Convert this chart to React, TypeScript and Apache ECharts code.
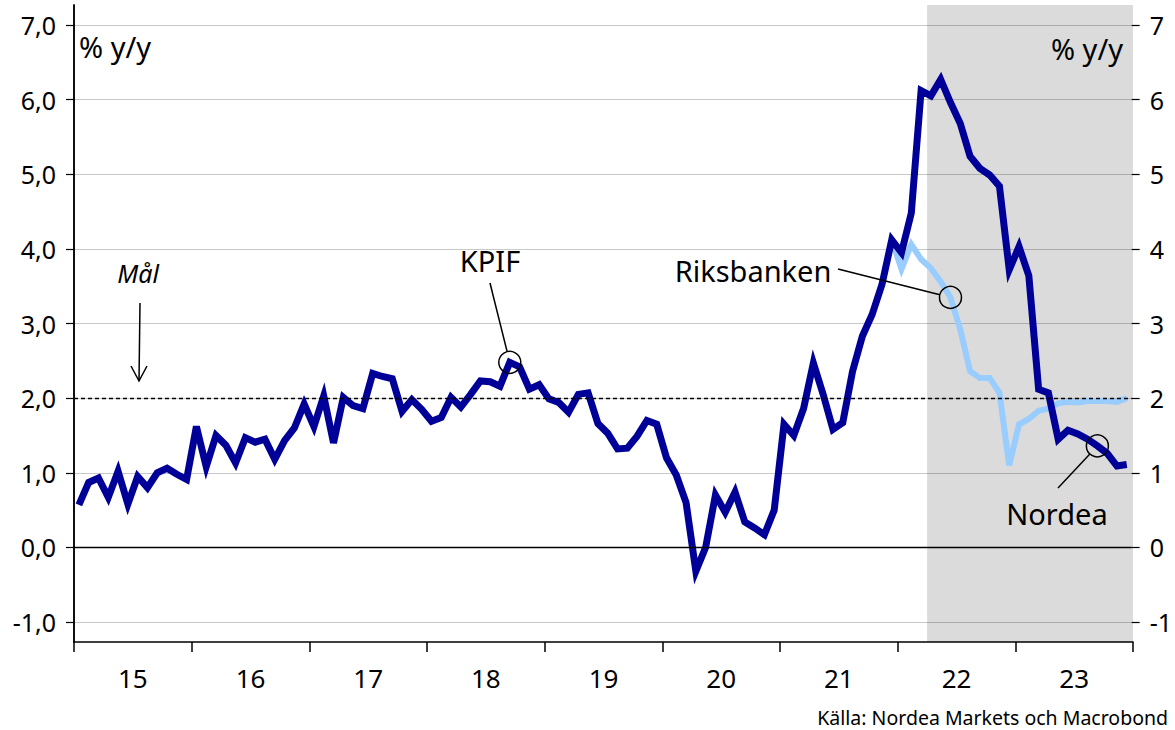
import React, { useEffect, useRef } from "react";
import * as echarts from "echarts";

// ---------- data ----------
const years = ["15", "16", "17", "18", "19", "20", "21", "22", "23"];
const months = years.flatMap((y) =>
  Array.from({ length: 12 }, (_, m) => `20${y}-${String(m + 1).padStart(2, "0")}`)
);

// KPIF outcome + Nordea forecast, % y/y, monthly from 2015-01
const kpifNordea = [
  0.57, 0.87, 0.93, 0.67, 1.02, 0.58, 0.95, 0.8, 1.0, 1.06, 0.98, 0.91,
  1.62, 1.08, 1.5, 1.37, 1.13, 1.47, 1.41, 1.45, 1.18, 1.43, 1.6, 1.92,
  1.62, 2.03, 1.4, 2.01, 1.9, 1.86, 2.33, 2.29, 2.26, 1.82, 1.98, 1.85,
  1.69, 1.74, 2.01, 1.88, 2.05, 2.23, 2.22, 2.16, 2.48, 2.42, 2.12, 2.18,
  1.99, 1.94, 1.81, 2.05, 2.07, 1.66, 1.53, 1.32, 1.33, 1.49, 1.7, 1.65,
  1.2, 0.97, 0.6, -0.32, 0.0, 0.7, 0.47, 0.74, 0.34, 0.26, 0.17, 0.5,
  1.65, 1.5, 1.86, 2.47, 2.05, 1.58, 1.67, 2.36, 2.83, 3.12, 3.52, 4.12,
  3.95, 4.48, 6.12, 6.05, 6.27, 5.96, 5.68, 5.24, 5.08, 4.99, 4.84, 3.72,
  4.03, 3.64, 2.12, 2.07, 1.45, 1.57, 1.52, 1.45, 1.36, 1.26, 1.09, 1.11,
];

// Riksbanken forecast, starting 2021-12
const riksbankenStart = "2021-12";
const riksbanken = [
  4.12, 3.73, 4.06, 3.86, 3.74, 3.56, 3.35, 2.92, 2.36, 2.27, 2.27, 2.07,
  1.1, 1.65, 1.72, 1.83, 1.86, 1.93, 1.95, 1.94, 1.96, 1.96, 1.96, 1.95, 2.0,
];

const forecastStart = "2022-04";
const inflationTarget = 2;
const yMin = -1;
const yMax = 7;

const kpifAnchor = "2018-09";
const riksAnchor = "2022-06";
const nordeaAnchor = "2023-09";

const FONT = "Noto Sans";

export default function App() {
  const ref = useRef<HTMLDivElement>(null);

  useEffect(() => {
    if (!ref.current) return;
    const chart = echarts.init(ref.current, undefined, { renderer: "svg" });

    const riksStartIdx = months.indexOf(riksbankenStart);
    const riksData = months.map((_, i) =>
      i >= riksStartIdx && i - riksStartIdx < riksbanken.length ? riksbanken[i - riksStartIdx] : null
    );
    const fcIdx = months.indexOf(forecastStart);

    const option: any = {
      animation: false,
      backgroundColor: "#fff",
      textStyle: { fontFamily: FONT },
      grid: [
        { left: 74, right: 42, top: 25, bottom: 108 },
        { left: 74, right: 42, top: 5, bottom: 88 },
      ],
      xAxis: [
        { type: "category", gridIndex: 0, data: months, boundaryGap: true, show: false },
        {
          type: "value",
          gridIndex: 1,
          min: 0,
          max: months.length,
          interval: 12,
          position: "bottom",
          axisLine: { show: true, lineStyle: { color: "#000", width: 1.5 } },
          axisTick: { show: true, inside: false, length: 10, lineStyle: { color: "#000", width: 1.5 } },
          axisLabel: { show: false },
          splitLine: { show: false },
        },
        {
          type: "value",
          gridIndex: 1,
          min: 0,
          max: months.length,
          interval: 6,
          position: "bottom",
          axisLine: { show: false },
          axisTick: { show: false },
          splitLine: { show: false },
          axisLabel: {
            show: true,
            margin: 23,
            color: "#000",
            fontSize: 26,
            fontFamily: FONT,
            formatter: (v: number) => (v % 12 === 6 ? years[(v - 6) / 12] : ""),
          },
        },
      ],
      yAxis: [
        {
          type: "value",
          gridIndex: 0,
          position: "left",
          min: yMin,
          max: yMax,
          interval: 1,
          axisLine: { show: false },
          axisTick: { show: true, inside: false, length: 8, lineStyle: { color: "#000", width: 1.2 } },
          axisLabel: {
            margin: 18,
            color: "#000",
            fontSize: 25,
            fontFamily: FONT,
            formatter: (v: number) => v.toFixed(1).replace(".", ","),
          },
          splitLine: { show: true, lineStyle: { color: "#c8c8c8", width: 1 } },
        },
        {
          type: "value",
          gridIndex: 0,
          position: "right",
          min: yMin,
          max: yMax,
          interval: 1,
          axisLine: { show: false },
          axisTick: { show: true, inside: false, length: 8, lineStyle: { color: "#000", width: 1.2 } },
          axisLabel: {
            margin: 18,
            color: "#000",
            fontSize: 25,
            fontFamily: FONT,
            formatter: (v: number) => String(v),
          },
          splitLine: { show: false },
        },
        {
          type: "value",
          gridIndex: 1,
          position: "left",
          min: 0,
          max: 1,
          axisLine: { show: true, lineStyle: { color: "#000", width: 1.5 } },
          axisTick: { show: false },
          axisLabel: { show: false },
          splitLine: { show: false },
        },
        {
          type: "value",
          gridIndex: 1,
          position: "right",
          min: 0,
          max: 1,
          axisLine: { show: true, lineStyle: { color: "#000", width: 1.5 } },
          axisTick: { show: false },
          axisLabel: { show: false },
          splitLine: { show: false },
        },
      ],
      series: [
        {
          name: "shade",
          type: "line",
          xAxisIndex: 1,
          yAxisIndex: 2,
          data: [[fcIdx, 0]],
          showSymbol: false,
          symbol: "none",
          lineStyle: { opacity: 0 },
          silent: true,
          z: 1,
          markArea: {
            silent: true,
            itemStyle: { color: "rgba(0,0,0,0.14)" },
            data: [[{ xAxis: fcIdx }, { xAxis: months.length }]],
          },
        },
        {
          name: "refs",
          type: "line",
          xAxisIndex: 0,
          yAxisIndex: 0,
          data: [],
          z: 2,
          silent: true,
          markLine: {
            silent: true,
            symbol: ["none", "none"],
            label: { show: false },
            data: [
              { yAxis: inflationTarget, lineStyle: { type: [4, 3], color: "#000", width: 1.3 } },
              { yAxis: 0, lineStyle: { type: "solid", color: "#000", width: 1.3 } },
            ],
          },
        },
        {
          name: "Riksbanken",
          type: "line",
          xAxisIndex: 0,
          yAxisIndex: 0,
          data: riksData,
          symbol: "none",
          connectNulls: false,
          z: 3,
          lineStyle: { color: "#99ccff", width: 6, join: "miter", miterLimit: 10 },
        },
        {
          name: "KPIF / Nordea",
          type: "line",
          xAxisIndex: 0,
          yAxisIndex: 0,
          data: kpifNordea,
          symbol: "none",
          z: 4,
          lineStyle: { color: "#000099", width: 7, join: "miter", miterLimit: 10 },
        },
      ],
    };

    chart.setOption(option);

    const px = (m: string, v: number) =>
      chart.convertToPixel({ xAxisIndex: 0, yAxisIndex: 0 }, [m, v]) as number[];

    const R = 11;
    const callout = (anchor: number[], from: number[]) => {
      const dx = from[0] - anchor[0];
      const dy = from[1] - anchor[1];
      const d = Math.sqrt(dx * dx + dy * dy) || 1;
      const end = [anchor[0] + (R * dx) / d, anchor[1] + (R * dy) / d];
      return [
        {
          type: "line",
          shape: { x1: from[0], y1: from[1], x2: end[0], y2: end[1] },
          style: { stroke: "#000", lineWidth: 1.5 },
          z: 100,
        },
        {
          type: "circle",
          shape: { cx: anchor[0], cy: anchor[1], r: R },
          style: { stroke: "#000", lineWidth: 1.5, fill: "none" },
          z: 100,
        },
      ];
    };

    const kp = px(kpifAnchor, kpifNordea[months.indexOf(kpifAnchor)]);
    const rp = px(riksAnchor, riksbanken[months.indexOf(riksAnchor) - riksStartIdx]);
    const np = px(nordeaAnchor, kpifNordea[months.indexOf(nordeaAnchor)]);

    const txt = (text: string, x: number, y: number, size: number, align: string, extra: any = {}) => ({
      type: "text",
      x,
      y,
      z: 100,
      style: {
        text,
        fill: "#000",
        fontSize: size,
        fontFamily: FONT,
        align,
        verticalAlign: "middle",
        ...extra,
      },
    });

    chart.setOption({
      graphic: [
        txt("% y/y", 79, 46, 29, "left"),
        txt("% y/y", 1123, 48, 29, "right"),
        txt("Mål", 138, 273, 25, "center", { fontStyle: "italic" }),
        {
          type: "line",
          shape: { x1: 140, y1: 303, x2: 139, y2: 381 },
          style: { stroke: "#000", lineWidth: 1.5 },
          z: 100,
        },
        {
          type: "polyline",
          shape: { points: [[131, 366], [139, 381], [147, 366]] },
          style: { stroke: "#000", lineWidth: 1.5, fill: "none" },
          z: 100,
        },
        txt("KPIF", 490, 260, 29, "center"),
        ...callout(kp, [490, 283]),
        txt("Riksbanken", 753, 270, 29, "center"),
        ...callout(rp, [838, 269]),
        txt("Nordea", 1057, 513, 29, "center"),
        ...callout(np, [1058, 488]),
        txt("Källa: Nordea Markets och Macrobond", 1168, 717, 19.5, "right"),
      ],
    });

    return () => chart.dispose();
  }, []);

  return (
    <div
      ref={ref}
      style={{ position: "absolute", left: 0, top: 0, width: 1175, height: 730, background: "#fff" }}
    />
  );
}
